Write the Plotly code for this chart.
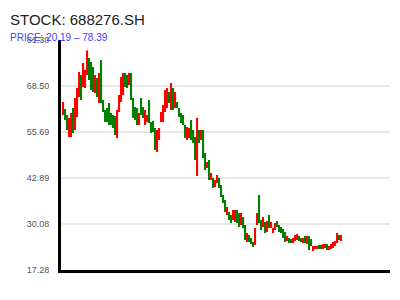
import plotly.graph_objects as go

open_px = [60.42, 62.09, 60.42, 54.30, 54.30, 62.37, 56.25, 59.87, 65.43, 71.56,
           68.22, 67.94, 71.56, 76.29, 75.18, 73.79, 66.55, 70.72, 63.76, 75.73,
           64.60, 61.82, 62.37, 63.76, 60.98, 60.42, 60.15, 54.02, 61.26, 64.04,
           65.99, 72.12, 71.56, 68.78, 72.12, 65.16, 62.65, 62.37, 57.64, 65.16,
           62.65, 57.64, 58.48, 64.60, 58.48, 58.75, 56.81, 50.13, 53.47, 58.48,
           58.48, 61.26, 62.37, 66.83, 61.82, 67.94, 62.37, 64.04, 62.37, 60.98,
           60.42, 57.64, 53.47, 54.02, 59.03, 56.25, 54.30, 43.45, 56.25, 53.47,
           56.25, 49.85, 45.67, 47.90, 42.33, 42.89, 40.38, 41.50, 42.89, 40.94,
           38.16, 36.76, 32.59, 33.42, 32.59, 31.20, 30.64, 33.98, 33.14, 29.81,
           32.03, 29.81, 25.07, 27.01, 26.18, 25.07, 24.24, 29.81, 38.16, 31.20,
           29.25, 30.64, 27.86, 32.59, 28.97, 27.58, 28.41, 30.92, 29.81, 29.25,
           28.69, 27.86, 25.35, 26.18, 25.90, 24.80, 25.35, 25.63, 26.74, 26.18,
           24.80, 26.74, 24.52, 26.74, 25.90, 22.57, 23.12, 23.12, 24.24, 24.24,
           23.12, 23.40, 24.52, 22.85, 23.12, 23.40, 23.96, 24.80, 27.01, 25.35]

close_px = [64.04, 59.03, 56.25, 59.59, 60.98, 55.42, 65.16, 67.94, 72.39, 64.60,
            74.90, 72.95, 78.39, 70.17, 67.38, 66.83, 71.56, 65.43, 72.12, 63.76,
            61.26, 58.48, 58.48, 57.64, 57.64, 56.81, 54.86, 61.82, 65.99, 71.00,
            72.12, 68.22, 67.94, 72.12, 64.60, 59.59, 59.03, 57.64, 60.98, 60.42,
            59.59, 61.82, 60.42, 58.20, 55.42, 55.69, 50.68, 56.25, 56.81, 61.26,
            63.21, 67.38, 67.94, 63.76, 69.33, 61.82, 66.83, 62.37, 59.87, 58.20,
            57.64, 54.02, 57.08, 56.81, 53.47, 52.63, 47.90, 59.59, 52.63, 56.25,
            48.46, 45.12, 47.34, 42.33, 44.28, 40.10, 42.33, 43.72, 40.10, 37.60,
            35.93, 33.42, 34.82, 31.20, 30.36, 33.98, 33.98, 30.36, 29.25, 33.14,
            28.97, 25.63, 27.58, 25.07, 24.52, 23.68, 28.97, 33.14, 30.36, 28.41,
            32.03, 27.58, 30.92, 28.97, 30.64, 28.97, 30.36, 29.25, 27.86, 27.58,
            26.18, 25.07, 26.74, 24.80, 24.80, 26.18, 27.01, 27.30, 25.35, 25.07,
            26.18, 24.80, 26.74, 22.85, 23.96, 23.96, 23.96, 23.96, 23.12, 23.12,
            24.52, 24.52, 22.85, 23.96, 24.52, 25.07, 25.35, 27.58, 25.63, 27.01]

tick_vals = [17.28, 30.08, 42.89, 55.69, 68.50, 81.30]
tick_text = ["17.28", "30.08", "42.89", "55.69", "68.50", "81.30"]
grid_vals = [30.08, 42.89, 55.69, 68.50]
title_text = "STOCK: 688276.SH"
subtitle_text = "PRICE: 20.19 – 78.39"

idx = list(range(len(open_px)))
base = [min(o, c) for o, c in zip(open_px, close_px)]
height = [abs(c - o) for o, c in zip(open_px, close_px)]
colors = ["#ff0000" if c >= o else "#008000" for o, c in zip(open_px, close_px)]

fig = go.Figure()
fig.add_trace(go.Bar(x=idx, y=height, base=base, width=0.6,
                     marker=dict(color=colors, line=dict(width=0)),
                     hoverinfo="skip"))

for g in grid_vals:
    fig.add_shape(type="line", xref="paper", x0=0, x1=1, yref="y", y0=g, y1=g,
                  line=dict(color="#d0d0d0", width=1), layer="below")

fig.add_annotation(text=title_text, xref="paper", yref="paper",
                   x=(8 - 61) / 329, y=(270 - 19) / 230, xanchor="left", yanchor="middle",
                   showarrow=False, font=dict(family="Liberation Sans", size=15, color="#222222"))
fig.add_annotation(text=subtitle_text, xref="paper", yref="paper",
                   x=(8 - 61) / 329, y=(270 - 37) / 230, xanchor="left", yanchor="middle",
                   showarrow=False, font=dict(family="Liberation Sans", size=10, color="#4040ff"))

fig.update_layout(
    width=400, height=300,
    margin=dict(l=61, r=10, t=40, b=30),
    paper_bgcolor="white", plot_bgcolor="white",
    showlegend=False,
    font=dict(family="Liberation Sans"),
    xaxis=dict(range=[-1.25, 163.25], showgrid=False, zeroline=False, showticklabels=False,
               showline=True, linecolor="black", linewidth=3, ticks=""),
    yaxis=dict(range=[17.28, 81.30], tickvals=tick_vals, ticktext=tick_text,
               showgrid=False, zeroline=False, showline=True, linecolor="black", linewidth=3,
               ticks="", ticklabelstandoff=7,
               tickfont=dict(family="Liberation Sans", size=9, color="#555555")),
)

fig.write_html("out.html")
